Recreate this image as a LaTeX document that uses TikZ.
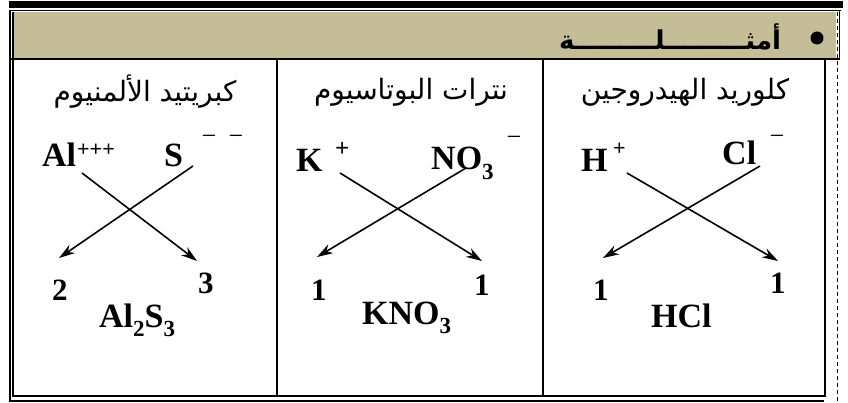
\documentclass[tikz,border=0pt]{standalone}
\usepackage{fontspec}
\setmainfont{Liberation Serif}
\newfontfamily\arabicfont[Script=Arabic]{DejaVu Sans}
\TeXXeTstate=1
\usetikzlibrary{arrows.meta}
\definecolor{headtan}{HTML}{C4BD97}
\newcommand{\chsub}[1]{\raisebox{-0.28em}{\fontsize{23}{23}\selectfont #1}}
\begin{document}
\begin{tikzpicture}[x=1pt,y=-1pt,
  chem/.style={font=\fontsize{34}{34}\selectfont\bfseries, inner sep=0pt, anchor=base west},
  charge/.style={font=\fontsize{22}{22}\selectfont\bfseries, inner sep=0pt, anchor=base west},
  minus/.style={font=\fontsize{26}{26}\selectfont, inner sep=0pt, anchor=base},
  num/.style={font=\fontsize{31}{31}\selectfont\bfseries, inner sep=0pt, anchor=base west},
  title/.style={font=\fontsize{28}{28}\selectfont\arabicfont, inner sep=0pt},
  cross/.style={line width=1.6pt, -{Stealth[length=16pt,width=10pt]}},
  frame/.style={line width=2pt},
]
\fill[white] (0,0) rectangle (848,403);
\useasboundingbox (0,0) rectangle (848,403);
% top bar and header
\fill (9,1) rectangle (843,8);
\draw[line width=1.5pt] (9,10.5) -- (841,10.5);
\fill[headtan] (14,12) rectangle (836,58);
\draw[line width=1.5pt] (839.5,10) -- (839.5,59);
\draw[frame] (9,59) -- (840,59);
% frame
\draw[frame] (10,10) -- (10,402);
\draw[frame] (13,12) -- (13,397);
\draw[frame] (12,396) -- (826,396);
\draw[frame] (9,401) -- (824,401);
\draw[frame] (277,59) -- (277,396);
\draw[frame] (543,59) -- (543,396);
\draw[frame] (825,59) -- (825,397);
\draw[line width=1.5pt, dash pattern=on 4pt off 3pt] (837.5,12) -- (837.5,403);
% header
\node[circle, fill, inner sep=0pt, minimum size=13pt] (bul) at (817,38) {};
\node[font=\fontsize{26}{26}\selectfont\arabicfont\bfseries, inner sep=0pt] (head) at (670,37) {\beginR أمثـــــــــلـــــــــة\endR};
% column titles
\node[title] (t1) at (145,92) {\beginR كبريتيد الألمنيوم\endR};
\node[title] (t2) at (411,92) {\beginR نترات البوتاسيوم\endR};
\node[title] (t3) at (685,92) {\beginR كلوريد الهيدروجين\endR};
% column 1
\node[chem] (al) at (42,167) {Al};
\node[charge] (alc) at (77,157) {+++};
\node[chem] (s) at (164,167) {S};
\node[minus] (sc1) at (209,145) {−};
\node[minus] (sc2) at (236,145) {−};
\coordinate (a1s) at (82,173);
\coordinate (b1s) at (193,166);
\node[num] (n2) at (52,300) {2};
\node[num] (n3) at (198,293) {3};
\coordinate (a1e) at (197,261);
\coordinate (b1e) at (59,258);
\draw[cross] (a1s) -- (a1e);
\draw[cross] (b1s) -- (b1e);
\node[chem] (f1) at (99,327) {Al\chsub{2}S\chsub{3}};
% column 2
\node[chem] (k) at (296,172) {K};
\node[charge, font=\fontsize{25}{25}\selectfont\bfseries] (kc) at (335,157) {+};
\node[chem] (no) at (431,170) {NO\chsub{3}};
\node[minus] (noc) at (514,146) {−};
\coordinate (a2s) at (340,173);
\coordinate (b2s) at (466,168);
\node[num] (n4) at (311,300) {1};
\node[num] (n5) at (474,295) {1};
\coordinate (a2e) at (482,261);
\coordinate (b2e) at (317,257);
\draw[cross] (a2s) -- (a2e);
\draw[cross] (b2s) -- (b2e);
\node[chem] (f2) at (362,324) {KNO\chsub{3}};
% column 3
\node[chem] (h) at (581,172) {H};
\node[charge] (hc) at (613,156) {+};
\node[chem] (cl) at (722,165) {Cl};
\node[minus] (clc) at (777,145) {−};
\coordinate (a3s) at (627,173);
\coordinate (b3s) at (760,166);
\node[num] (n6) at (593,300) {1};
\node[num] (n7) at (770,293) {1};
\coordinate (a3e) at (778,261);
\coordinate (b3e) at (603,258);
\draw[cross] (a3s) -- (a3e);
\draw[cross] (b3s) -- (b3e);
\node[chem] (f3) at (651,327) {HCl};
\end{tikzpicture}
\end{document}
